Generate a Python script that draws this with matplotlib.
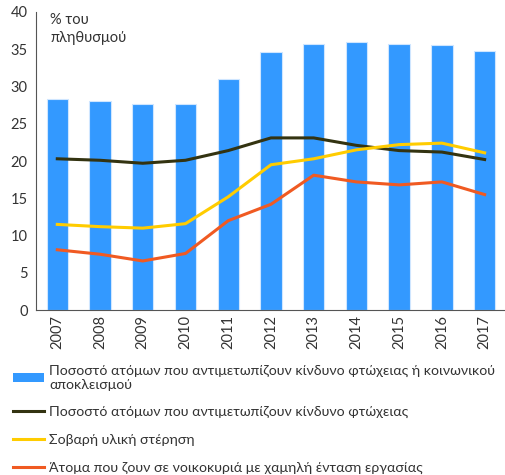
import matplotlib.pyplot as plt
import numpy as np
from matplotlib.patches import Patch
from matplotlib.lines import Line2D

plt.rcParams['font.family'] = ['Lato', 'DejaVu Sans']

years = ["2007", "2008", "2009", "2010", "2011", "2012", "2013", "2014", "2015", "2016", "2017"]
poverty_or_exclusion = [28.3, 28.1, 27.6, 27.7, 31.0, 34.6, 35.7, 36.0, 35.7, 35.6, 34.8]
poverty_risk = [20.3, 20.1, 19.7, 20.1, 21.4, 23.1, 23.1, 22.1, 21.4, 21.2, 20.2]
material_deprivation = [11.5, 11.2, 11.0, 11.6, 15.2, 19.5, 20.3, 21.5, 22.2, 22.4, 21.1]
low_work_intensity = [8.1, 7.5, 6.6, 7.6, 12.0, 14.2, 18.1, 17.2, 16.8, 17.2, 15.5]

labels = [
    "Ποσοστό ατόμων που αντιμετωπίζουν κίνδυνο φτώχειας ή κοινωνικού\nαποκλεισμού",
    "Ποσοστό ατόμων που αντιμετωπίζουν κίνδυνο φτώχειας",
    "Σοβαρή υλική στέρηση",
    "Άτομα που ζουν σε νοικοκυριά με χαμηλή ένταση εργασίας",
]

blue = "#3399ff"
dark = "#333311"
yellow = "#ffcc00"
orange = "#f05a22"

fig = plt.figure(figsize=(5.06, 4.75), dpi=100)
ax = fig.add_axes([0.071, 0.347, 0.929, 0.628])

x = np.arange(len(years))
ax.bar(x, poverty_or_exclusion, width=0.5, color=blue, edgecolor="#cfe6ff", linewidth=0.8)
ax.plot(x, poverty_risk, color=dark, lw=2.2)
ax.plot(x, material_deprivation, color=yellow, lw=2.2)
ax.plot(x, low_work_intensity, color=orange, lw=2.2)

ax.set_xlim(-0.5, 10.5)
ax.set_ylim(0, 40)
ax.set_yticks(range(0, 41, 5))
ax.set_xticks(x)
ax.set_xticklabels(years, rotation=90)
ax.tick_params(axis="both", length=0, labelsize=10.5, colors="#333333")
ax.tick_params(axis="y", pad=6)
for s in ["top", "right"]:
    ax.spines[s].set_visible(False)
for s in ["left", "bottom"]:
    ax.spines[s].set_color("#555555")

ax.text(0.03, 0.995, "% του\nπληθυσμού", transform=ax.transAxes, va="top", ha="left",
        fontsize=10.5, color="#333333", linespacing=1.3)

handles = [
    Patch(facecolor=blue),
    Line2D([], [], color=dark, lw=2.2),
    Line2D([], [], color=yellow, lw=2.2),
    Line2D([], [], color=orange, lw=2.2),
]
fig.legend(handles, labels, loc="upper left", bbox_to_anchor=(0.026, 0.233), frameon=False,
           fontsize=10.2, handlelength=2.2, handletextpad=0.35, labelspacing=1.1,
           borderpad=0, borderaxespad=0, labelcolor="#333333")

fig.savefig("out.png", dpi=100)
